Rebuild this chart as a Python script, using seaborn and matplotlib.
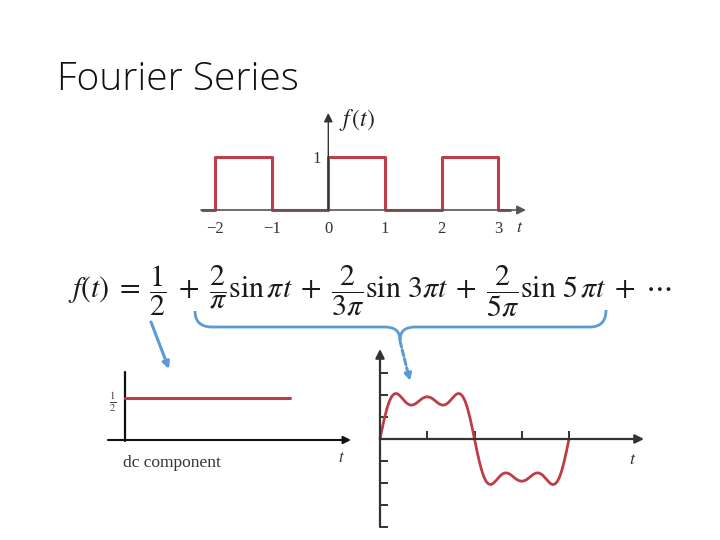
import numpy as np
import matplotlib
matplotlib.use('Agg')
import matplotlib.pyplot as plt
import seaborn as sns
from matplotlib.path import Path
from matplotlib.patches import PathPatch

# square wave f(t)
square_t = [-2.23, -2, -1, 0, 1, 2, 3, 3.2]
square_f = [0, 1, 0, 1, 0, 1, 0, 0]
top_ticks = [-2, -1, 0, 1, 2, 3]
top_labels = ['\u22122', '\u22121', '0', '1', '2', '3']

# dc component
dc_t = [0, 2]
dc_f = [0.5, 0.5]

# sum of the sine terms (in y-tick units)
ac_t = [0, 0.025, 0.05, 0.075, 0.1, 0.125, 0.15, 0.175, 0.2, 0.225,
        0.25, 0.275, 0.3, 0.325, 0.35, 0.375, 0.4, 0.425, 0.45, 0.475,
        0.5, 0.525, 0.55, 0.575, 0.6, 0.625, 0.65, 0.675, 0.7, 0.725,
        0.75, 0.775, 0.8, 0.825, 0.85, 0.875, 0.9, 0.925, 0.95, 0.975,
        1.0, 1.025, 1.05, 1.075, 1.1, 1.125, 1.15, 1.175, 1.2, 1.225,
        1.25, 1.275, 1.3, 1.325, 1.35, 1.375, 1.4, 1.425, 1.45, 1.475,
        1.5, 1.525, 1.55, 1.575, 1.6, 1.625, 1.65, 1.675, 1.7, 1.725,
        1.75, 1.775, 1.8, 1.825, 1.85, 1.875, 1.9, 1.925, 1.95, 1.975, 2.0]
ac_f = [0, 0.52, 1.00, 1.41, 1.73, 1.94, 2.05, 2.07, 2.01, 1.90,
        1.78, 1.66, 1.58, 1.54, 1.55, 1.60, 1.68, 1.77, 1.85, 1.90,
        1.92, 1.90, 1.85, 1.77, 1.68, 1.60, 1.55, 1.54, 1.58, 1.66,
        1.78, 1.90, 2.01, 2.07, 2.05, 1.94, 1.73, 1.41, 1.00, 0.52,
        0, -0.52, -1.00, -1.41, -1.73, -1.94, -2.05, -2.07, -2.01, -1.90,
        -1.78, -1.66, -1.58, -1.54, -1.55, -1.60, -1.68, -1.77, -1.85, -1.90,
        -1.92, -1.90, -1.85, -1.77, -1.68, -1.60, -1.55, -1.54, -1.58, -1.66,
        -1.78, -1.90, -2.01, -2.07, -2.05, -1.94, -1.73, -1.41, -1.00, -0.52, 0]
ac_xticks = [0.5, 1, 1.5, 2]
ac_yticks = [-4, -3, -2, -1, 1, 2, 3]

RED = '#bf3c49'
BLUE = '#5b9bd5'
W, H = 720, 540

sns.set_theme(style='white')
plt.rcParams['mathtext.fontset'] = 'stix'
SERIF = ['Liberation Serif', 'DejaVu Serif']

fig = plt.figure(figsize=(7.2, 5.4), dpi=100)


def px_axes(left, top, right, bottom):
    return fig.add_axes([left / W, 1 - bottom / H, (right - left) / W, (bottom - top) / H])


def arrow(ax, start, tip, color, lw, ms=12, ls='-'):
    ax.annotate('', xy=tip, xytext=start,
                arrowprops=dict(arrowstyle='-|>', color=color, lw=lw, linestyle=ls,
                                mutation_scale=ms, shrinkA=0, shrinkB=0))


def clean(ax):
    for s in ax.spines.values():
        s.set_visible(False)
    ax.set_facecolor('none')
    ax.grid(False)


# ---- top: square wave ----
x0, ux, y0, uy = 328.3, 56.7, 210, 52.7
ax1 = px_axes(195, 105, 535, 215)
clean(ax1)
ax1.set_xlim((195 - x0) / ux, (535 - x0) / ux)
ax1.set_ylim((y0 - 215) / uy, (y0 - 105) / uy)
arrow(ax1, ((201 - x0) / ux, 0), ((526 - x0) / ux, 0), '#555555', 1.2, ms=13)
arrow(ax1, (0, 0), (0, (y0 - 113) / uy), '#333333', 1.0, ms=13)
sns.lineplot(x=square_t, y=square_f, ax=ax1, color=RED, lw=2.2,
             drawstyle='steps-post', estimator=None, sort=False)
ax1.spines['bottom'].set_position(('data', 0))
ax1.spines['left'].set_position(('data', 0))
ax1.set_xticks(top_ticks)
ax1.set_xticklabels(top_labels, family=SERIF, fontsize=12, color='#333333')
ax1.set_yticks([1])
ax1.set_yticklabels(['1'], family=SERIF, fontsize=12, color='#333333')
ax1.tick_params(length=0, pad=8)
ax1.tick_params(axis='y', pad=5)
ax1.set_xlabel('')
ax1.set_ylabel('')
fig.text(339 / W, 1 - 120 / H, r'$f\,(t)$', fontsize=17, va='center', ha='left', color='#222222')
fig.text(520 / W, 1 - 227 / H, r'$t$', fontsize=13, va='center', ha='center', color='#333333')

# ---- left: dc component ----
x0, ux, y0, uy = 125, 82.5, 440, 84
ax2 = px_axes(100, 365, 360, 450)
clean(ax2)
ax2.set_xlim((100 - x0) / ux, (360 - x0) / ux)
ax2.set_ylim((y0 - 450) / uy, (y0 - 365) / uy)
arrow(ax2, ((108 - x0) / ux, 0), ((351 - x0) / ux, 0), '#111111', 1.5, ms=11)
ax2.plot([0, 0], [(y0 - 441) / uy, (y0 - 372) / uy], color='#111111', lw=1.6)
sns.lineplot(x=dc_t, y=dc_f, ax=ax2, color=RED, lw=2.2)
ax2.spines['left'].set_position(('data', 0))
ax2.set_xticks([])
ax2.set_yticks([0.5])
ax2.set_yticklabels([r'$\frac{1}{2}$'], fontsize=11, color='#444444')
ax2.tick_params(length=0, pad=6)
ax2.set_xlabel('')
ax2.set_ylabel('')
fig.text(123 / W, 1 - 463 / H, 'dc component', family=SERIF, fontsize=12.5,
         va='center', ha='left', color='#333333')
fig.text(341 / W, 1 - 457 / H, r'$t$', fontsize=12, va='center', ha='center', color='#333333')

# ---- right: ac components ----
x0, ux, y0, uy = 380, 94.5, 439, 22
ax3 = px_axes(365, 345, 655, 535)
clean(ax3)
ax3.set_xlim((365 - x0) / ux, (655 - x0) / ux)
ax3.set_ylim((y0 - 535) / uy, (y0 - 345) / uy)
arrow(ax3, (0, 0), ((644 - x0) / ux, 0), '#333333', 1.6, ms=13)
arrow(ax3, (0, -4), (0, (y0 - 349) / uy), '#333333', 1.6, ms=13)
sns.lineplot(x=ac_t, y=ac_f, ax=ax3, color=RED, lw=2.0, estimator=None, sort=False)
ax3.spines['bottom'].set_position(('data', 0))
ax3.spines['left'].set_position(('data', 0))
ax3.set_xticks(ac_xticks)
ax3.set_yticks(ac_yticks)
ax3.set_xticklabels([])
ax3.set_yticklabels([])
ax3.tick_params(direction='in', length=6, width=1.4, color='#333333',
                left=True, bottom=True)
ax3.set_xlabel('')
ax3.set_ylabel('')
fig.text(633 / W, 1 - 459 / H, r'$t$', fontsize=13, va='center', ha='center', color='#333333')

# ---- title and equation ----
fig.text(57 / W, 1 - 80 / H, 'Fourier Series', family=['Open Sans', 'DejaVu Sans'],
         fontweight='light', fontsize=28, va='center', ha='left', color='#111111')
eq = (r'$f(t)\;=\;\dfrac{1}{2}\;+\;\dfrac{2}{\pi}\sin\pi t\;+\;\dfrac{2}{3\pi}\sin\,3\pi t'
      r'\;+\;\dfrac{2}{5\pi}\sin\,5\,\pi t\;+\;\cdots$')
fig.text(68 / W, 1 - 291 / H, eq, fontsize=21.5, va='center', ha='left', color='#1a1a1a')

# ---- blue brace and pointers ----
ov = fig.add_axes([0, 0, 1, 1])
ov.set_xlim(0, W)
ov.set_ylim(H, 0)
ov.axis('off')
ov.patch.set_alpha(0)
verts = [(195, 311), (195, 327), (212, 327), (385, 327), (400, 327), (400, 340),
         (400, 327), (415, 327), (590, 327), (606, 327), (606, 310)]
codes = [Path.MOVETO, Path.CURVE3, Path.CURVE3, Path.LINETO, Path.CURVE3, Path.CURVE3,
         Path.CURVE3, Path.CURVE3, Path.LINETO, Path.CURVE3, Path.CURVE3]
ov.add_patch(PathPatch(Path(verts, codes), fc='none', ec=BLUE, lw=2.0))
arrow(ov, (151, 322), (169, 369), BLUE, 2.2, ms=10)
arrow(ov, (400, 341), (410, 381), BLUE, 2.2, ms=10, ls=(0, (2, 1)))

fig.savefig('out.png', dpi=100)
